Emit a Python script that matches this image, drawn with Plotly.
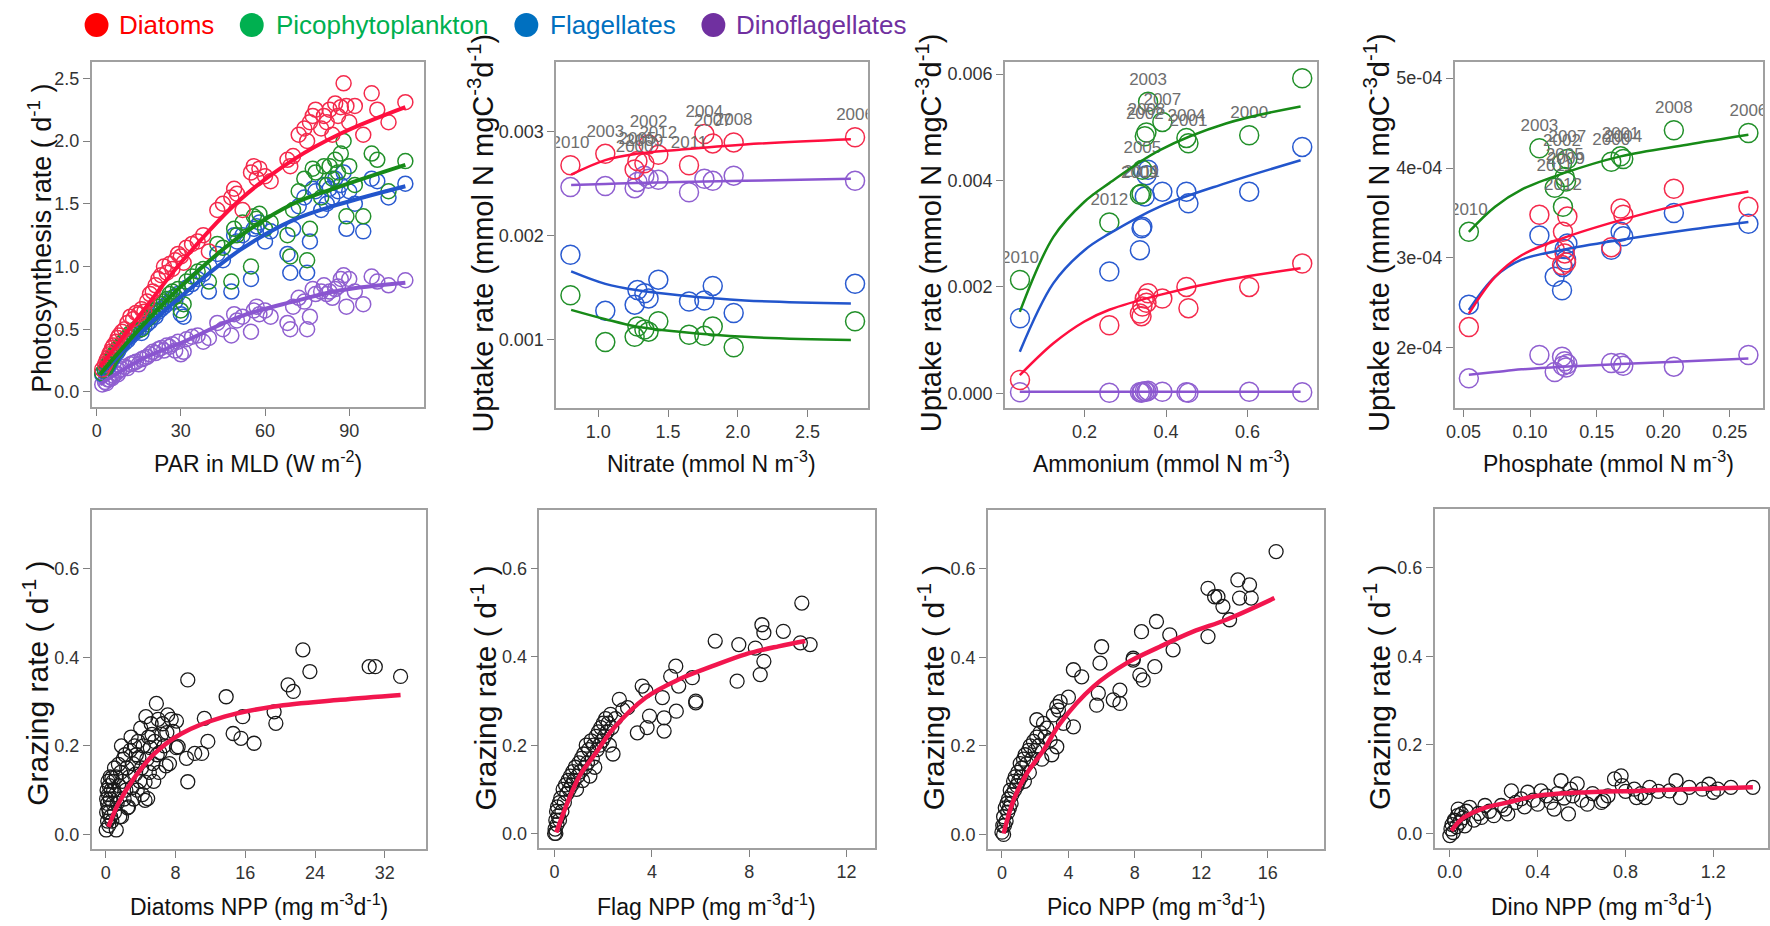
import plotly.graph_objects as go

W, H = 1770, 926
FONT = "Liberation Sans, Arial, sans-serif"

# ---------------- data ----------------
# Panel 1: photosynthesis rate vs PAR in MLD
par = [2, 3, 3.5, 4, 4.5, 5, 5.5, 6, 7, 7.5, 8, 9, 10, 11, 12, 13, 14, 15, 16, 17, 18, 19, 20, 21, 22,
       23, 24, 25, 26, 27, 28, 29, 30, 31, 32, 34, 36, 38, 40, 43, 45, 48, 49, 50, 52, 55, 56, 57, 58,
       60, 62, 68, 69, 70, 72, 74, 75, 76, 77, 78, 80, 81, 82, 83, 84, 85, 86, 87, 88, 89, 90, 92, 95,
       98, 100, 104, 110]
ps_diatoms = [0.18, 0.22, 0.25, 0.27, 0.3, 0.32, 0.35, 0.37, 0.4, 0.43, 0.45, 0.48, 0.5, 0.55, 0.6, 0.58,
              0.63, 0.62, 0.66, 0.64, 0.72, 0.78, 0.8, 0.85, 0.9, 0.93, 1.0, 0.95, 1.02, 0.98, 1.05, 1.1,
              1.08, 1.03, 1.15, 1.18, 1.2, 1.25, 1.12, 1.45, 1.5, 1.55, 1.62, 1.58, 1.45, 1.75, 1.8, 1.7,
              1.78, 1.72, 1.68, 1.85, 1.8, 1.88, 2.05, 2.1, 2.0, 2.15, 2.2, 2.25, 2.1, 2.2, 2.15, 2.25,
              2.05, 2.3, 2.2, 2.27, 2.46, 2.28, 2.15, 2.28, 2.05, 2.38, 2.25, 2.15, 2.31]
ps_pico = [0.15, 0.17, 0.2, 0.22, 0.24, 0.26, 0.28, 0.3, 0.33, 0.35, 0.36, 0.39, 0.42, 0.44, 0.47, 0.49,
           0.5, 0.52, 0.5, 0.56, 0.58, 0.6, 0.63, 0.65, 0.68, 0.7, 0.72, 0.74, 0.78, 0.8, 0.76, 0.82,
           0.65, 0.7, 0.88, 0.92, 0.96, 0.98, 0.88, 1.18, 1.15, 0.88, 1.3, 1.25, 1.35, 1.0, 1.4, 1.38,
           1.42, 1.3, 1.35, 1.25, 1.08, 1.45, 1.6, 1.7, 1.05, 1.3, 1.78, 1.75, 1.55, 1.8, 1.65, 1.8,
           1.7, 1.85, 1.75, 1.9, 2.0, 1.4, 1.8, 1.65, 1.4, 1.9, 1.85, 1.6, 1.84]
ps_flag = [0.14, 0.16, 0.19, 0.2, 0.22, 0.25, 0.26, 0.28, 0.31, 0.32, 0.34, 0.37, 0.39, 0.41, 0.44, 0.46,
           0.48, 0.49, 0.47, 0.52, 0.54, 0.56, 0.6, 0.6, 0.64, 0.66, 0.68, 0.7, 0.72, 0.75, 0.72, 0.78,
           0.62, 0.6, 0.83, 0.86, 0.9, 0.94, 0.8, 1.1, 1.05, 0.8, 1.25, 1.2, 1.25, 0.9, 1.3, 1.32,
           1.35, 1.2, 1.28, 1.1, 0.95, 1.3, 1.48, 1.55, 0.95, 1.2, 1.62, 1.6, 1.45, 1.65, 1.5, 1.62,
           1.55, 1.7, 1.6, 1.65, 1.75, 1.3, 1.6, 1.5, 1.28, 1.7, 1.68, 1.55, 1.66]
ps_dino = [0.06, 0.08, 0.07, 0.1, 0.1, 0.12, 0.11, 0.13, 0.15, 0.14, 0.17, 0.18, 0.2, 0.19, 0.22, 0.23,
           0.24, 0.22, 0.26, 0.27, 0.28, 0.3, 0.32, 0.31, 0.34, 0.35, 0.33, 0.37, 0.36, 0.38, 0.33, 0.4,
           0.3, 0.32, 0.42, 0.44, 0.45, 0.4, 0.43, 0.55, 0.5, 0.45, 0.62, 0.57, 0.6, 0.48, 0.65, 0.68,
           0.62, 0.65, 0.6, 0.55, 0.5, 0.68, 0.75, 0.72, 0.5, 0.6, 0.82, 0.78, 0.8, 0.85, 0.78, 0.8,
           0.75, 0.82, 0.84, 0.9, 0.93, 0.68, 0.9, 0.8, 0.7, 0.92, 0.88, 0.85, 0.89]
fit_par = [1.2, 16, 30, 51, 70, 87, 110]
fit_ps_diatoms = [0.2, 0.63, 1.03, 1.53, 1.85, 2.06, 2.27]
fit_ps_pico = [0.14, 0.52, 0.84, 1.24, 1.5, 1.64, 1.81]
fit_ps_flag = [0.13, 0.48, 0.76, 1.13, 1.37, 1.5, 1.64]
fit_ps_dino = [0.06, 0.26, 0.39, 0.6, 0.72, 0.81, 0.87]

# Panel 2: nitrate uptake
no3_years = ["2010", "2003", "2000", "2005", "2009", "2002", "2012", "2011", "2004", "2007", "2008", "2006"]
no3 = [0.80, 1.05, 1.26, 1.28, 1.33, 1.36, 1.43, 1.65, 1.76, 1.82, 1.97, 2.84]
no3_diatoms = [0.00268, 0.00279, 0.00264, 0.00272, 0.0027, 0.00288, 0.00278, 0.00268, 0.00298, 0.00289, 0.0029, 0.00295]
no3_dino = [0.00247, 0.00248, 0.00246, 0.00252, 0.00258, 0.00255, 0.00254, 0.00242, 0.00255, 0.00253, 0.00258, 0.00253]
no3_flag = [0.00182, 0.00128, 0.00134, 0.00148, 0.00145, 0.0014, 0.00158, 0.00137, 0.00138, 0.00152, 0.00126, 0.00154]
no3_pico = [0.00143, 0.00098, 0.00103, 0.00113, 0.0011, 0.00108, 0.00118, 0.00105, 0.00104, 0.00113, 0.00093, 0.00118]
fit_no3 = [0.805, 1.05, 1.27, 1.58, 2.05, 2.81]
fit_no3_diatoms = [0.00259, 0.00273, 0.00279, 0.00283, 0.00288, 0.00293]
fit_no3_dino = [0.00249, 0.0025, 0.00251, 0.00252, 0.00253, 0.00255]
fit_no3_flag = [0.00166, 0.00154, 0.00148, 0.00143, 0.00138, 0.00135]
fit_no3_pico = [0.00129, 0.0012, 0.00113, 0.00108, 0.00103, 0.001]

# Panel 3: ammonium uptake
nh4_years = ["2010", "2012", "2009", "2011", "2005", "2002", "2003", "2008", "2007", "2004", "2001", "2000", "2006"]
nh4 = [0.042, 0.261, 0.336, 0.34, 0.342, 0.348, 0.356, 0.352, 0.391, 0.45, 0.455, 0.604, 0.734]
nh4_diatoms = [0.00025, 0.00128, 0.0015, 0.00145, 0.00163, 0.00178, 0.00188, 0.0017, 0.00178, 0.002, 0.0016, 0.002, 0.00244]
nh4_pico = [0.00213, 0.00321, 0.00373, 0.00375, 0.0042, 0.00483, 0.00548, 0.0049, 0.0051, 0.0048, 0.0047, 0.00485, 0.00592]
nh4_flag = [0.00141, 0.00229, 0.00269, 0.0031, 0.00313, 0.0037, 0.0042, 0.0041, 0.00379, 0.00379, 0.00357, 0.00379, 0.00463]
nh4_dino = [0.00002, 0.00001, 0.00002, 0.00001, 0.00003, 0.00004, 0.00005, 0.00003, 0.00003, 0.00002, 0.00001, 0.00003, 0.00002]
fit_nh4 = [0.0415, 0.124, 0.2, 0.261, 0.385, 0.547, 0.73]
fit_nh4_pico = [0.00153, 0.00294, 0.0036, 0.00395, 0.00457, 0.00507, 0.00539]
fit_nh4_flag = [0.00078, 0.00207, 0.00269, 0.003, 0.00351, 0.00395, 0.00438]
fit_nh4_diatoms = [0.00034, 0.00094, 0.00135, 0.00157, 0.00185, 0.00213, 0.00235]
fit_nh4_dino = [0.00003, 0.00003, 0.00003, 0.00003, 0.00003, 0.00003, 0.00003]

# Panel 4: phosphate uptake
po4_years = ["2010", "2003", "2011", "2002", "2012", "2005", "2009", "2007", "2000", "2001", "2004", "2008", "2006"]
po4 = [0.054, 0.107, 0.1185, 0.124, 0.1247, 0.126, 0.127, 0.128, 0.161, 0.168, 0.17, 0.208, 0.264]
po4_diatoms = [2.23e-4, 3.48e-4, 3.09e-4, 2.92e-4, 3.29e-4, 3.05e-4, 2.95e-4, 3.46e-4, 3.12e-4, 3.55e-4, 3.48e-4, 3.77e-4, 3.57e-4]
po4_pico = [3.29e-4, 4.22e-4, 3.78e-4, 4.05e-4, 3.57e-4, 3.9e-4, 3.85e-4, 4.1e-4, 4.07e-4, 4.13e-4, 4.1e-4, 4.42e-4, 4.39e-4]
po4_flag = [2.48e-4, 3.25e-4, 2.79e-4, 2.64e-4, 2.9e-4, 3.1e-4, 2.98e-4, 3.16e-4, 3.09e-4, 3.29e-4, 3.24e-4, 3.5e-4, 3.38e-4]
po4_dino = [1.66e-4, 1.92e-4, 1.73e-4, 1.9e-4, 1.8e-4, 1.85e-4, 1.78e-4, 1.82e-4, 1.83e-4, 1.83e-4, 1.8e-4, 1.79e-4, 1.92e-4]
fit_po4 = [0.054, 0.0737, 0.0936, 0.1247, 0.168, 0.218, 0.264]
fit_po4_pico = [3.29e-4, 3.57e-4, 3.76e-4, 3.94e-4, 4.13e-4, 4.26e-4, 4.37e-4]
fit_po4_diatoms = [2.38e-4, 2.79e-4, 3.03e-4, 3.22e-4, 3.42e-4, 3.61e-4, 3.74e-4]
fit_po4_flag = [2.42e-4, 2.79e-4, 2.98e-4, 3.09e-4, 3.2e-4, 3.31e-4, 3.40e-4]
fit_po4_dino = [1.7e-4, 1.73e-4, 1.76e-4, 1.79e-4, 1.82e-4, 1.85e-4, 1.88e-4]

# Panels 5-8: grazing rate vs NPP
diat_npp = [0.05, 0.1, 0.1, 0.15, 0.2, 0.2, 0.25, 0.3, 0.3, 0.35, 0.4, 0.4, 0.5, 0.5, 0.55, 0.6, 0.7, 0.7, 0.8,
            0.85, 0.9, 1.0, 1.0, 1.1, 1.2, 1.2, 1.3, 1.45, 1.5, 1.6, 1.7, 1.8, 1.8, 1.9, 2.0, 2.1, 2.2, 2.3,
            2.4, 2.5, 2.6, 2.7, 2.8, 2.9, 3.0, 3.1, 3.2, 3.3, 3.4, 3.5, 3.6, 3.7, 3.8, 3.9, 4.0, 4.1, 4.2,
            4.3, 4.5, 4.5, 4.6, 4.7, 4.8, 4.9, 5.0, 5.1, 5.2, 5.3, 5.4, 5.5, 5.6, 5.8, 5.9, 6.0, 6.1, 6.2,
            6.4, 6.5, 6.7, 6.9, 7.0, 7.1, 7.3, 7.5, 7.7, 8.1, 8.1, 8.3, 9.25, 9.4, 9.4, 10.2, 11.0, 11.3,
            11.7, 13.8, 14.6, 15.5, 15.7, 17.0, 19.3, 19.5, 20.9, 21.5, 22.6, 23.4, 30.2, 30.9, 33.8]
diat_graz = [0.01, 0.05, 0.08, 0.1, 0.03, 0.07, 0.12, 0.06, 0.09, 0.02, 0.11, 0.05, 0.08, 0.13, 0.04, 0.1,
             0.128, 0.03, 0.07, 0.12, 0.1, 0.15, 0.05, 0.09, 0.01, 0.13, 0.07, 0.158, 0.11, 0.04, 0.14, 0.2,
             0.04, 0.12, 0.17, 0.08, 0.18, 0.1, 0.15, 0.06, 0.062, 0.13, 0.19, 0.22, 0.106, 0.16, 0.08, 0.2,
             0.136, 0.18, 0.1, 0.21, 0.174, 0.12, 0.24, 0.15, 0.09, 0.2, 0.118, 0.077, 0.266, 0.17, 0.081,
             0.22, 0.14, 0.196, 0.25, 0.226, 0.16, 0.12, 0.21, 0.296, 0.18, 0.26, 0.14, 0.185, 0.226, 0.25,
             0.2, 0.155, 0.23, 0.27, 0.16, 0.26, 0.233, 0.256, 0.196, 0.198, 0.172, 0.349, 0.119, 0.183,
             0.183, 0.262, 0.21, 0.311, 0.228, 0.217, 0.266, 0.206, 0.277, 0.251, 0.338, 0.323, 0.417, 0.368,
             0.379, 0.379, 0.357]
fit_diat_npp = [0.3, 1.45, 3.35, 5.6, 8.7, 13.6, 19.3, 26.9, 33.8]
fit_diat_graz = [0.017, 0.07, 0.13, 0.183, 0.228, 0.266, 0.289, 0.304, 0.315]

flag_npp = [0.0, 0.02, 0.05, 0.05, 0.08, 0.1, 0.12, 0.15, 0.2, 0.2, 0.25, 0.3, 0.35, 0.4, 0.45, 0.5, 0.55, 0.6,
            0.65, 0.7, 0.75, 0.8, 0.85, 0.9, 0.95, 1.0, 1.05, 1.1, 1.15, 1.2, 1.25, 1.3, 1.35, 1.4, 1.45, 1.5,
            1.55, 1.6, 1.65, 1.7, 1.75, 1.8, 1.85, 1.9, 1.95, 2.0, 2.05, 2.1, 2.15, 2.2, 2.25, 2.3, 2.35, 2.4,
            2.5, 2.66, 2.8, 3.0, 3.4, 3.6, 3.75, 3.8, 3.9, 4.43, 4.5, 4.5, 4.77, 4.98, 5.0, 5.1, 5.66, 5.8,
            5.8, 6.6, 7.5, 7.57, 8.25, 8.45, 8.52, 8.6, 8.6, 9.4, 10.1, 10.16, 10.5]
flag_graz = [0.0, 0.01, 0.03, 0.0, 0.05, 0.02, 0.06, 0.04, 0.07, 0.03, 0.08, 0.05, 0.1, 0.07, 0.11, 0.09, 0.12,
             0.1, 0.13, 0.11, 0.14, 0.12, 0.15, 0.1, 0.13, 0.16, 0.14, 0.17, 0.12, 0.18, 0.15, 0.2, 0.16, 0.19,
             0.13, 0.21, 0.17, 0.2, 0.15, 0.22, 0.19, 0.23, 0.2, 0.24, 0.21, 0.25, 0.22, 0.26, 0.23, 0.25, 0.2,
             0.27, 0.24, 0.18, 0.26, 0.304, 0.28, 0.285, 0.228, 0.334, 0.323, 0.24, 0.266, 0.308, 0.262, 0.232,
             0.356, 0.379, 0.277, 0.334, 0.353, 0.3, 0.296, 0.436, 0.345, 0.428, 0.42, 0.36, 0.473, 0.455, 0.39,
             0.458, 0.432, 0.522, 0.428]
fit_flag_npp = [0.07, 0.48, 1.02, 1.7, 2.39, 3.75, 5.1, 6.48, 7.84, 9.2, 10.3]
fit_flag_graz = [0.002, 0.063, 0.13, 0.183, 0.236, 0.308, 0.349, 0.379, 0.406, 0.424, 0.436]

pico_npp = [0.0, 0.05, 0.1, 0.1, 0.15, 0.2, 0.25, 0.3, 0.35, 0.4, 0.45, 0.5, 0.55, 0.6, 0.7, 0.75, 0.8, 0.9,
            0.95, 1.0, 1.1, 1.15, 1.2, 1.3, 1.35, 1.4, 1.5, 1.6, 1.65, 1.7, 1.8, 1.9, 2.0, 2.1, 2.1, 2.2, 2.3,
            2.4, 2.5, 2.6, 2.7, 2.9, 3.0, 3.1, 3.3, 3.3, 3.4, 3.5, 3.7, 4.0, 4.3, 4.3, 4.8, 5.7, 5.8, 5.9,
            6.0, 6.7, 7.1, 7.1, 7.9, 7.9, 8.3, 8.4, 8.5, 9.2, 9.3, 10.1, 10.3, 12.4, 12.4, 12.8, 13.0, 13.3,
            13.7, 14.2, 14.3, 14.9, 15.0, 16.5]
pico_graz = [0.005, 0.02, 0.0, 0.04, 0.02, 0.06, 0.03, 0.07, 0.05, 0.08, 0.06, 0.1, 0.07, 0.09, 0.12, 0.1, 0.13,
             0.11, 0.14, 0.12, 0.16, 0.13, 0.15, 0.17, 0.12, 0.18, 0.16, 0.19, 0.14, 0.2, 0.17, 0.21, 0.19, 0.22,
             0.259, 0.2, 0.23, 0.17, 0.251, 0.22, 0.24, 0.213, 0.18, 0.27, 0.289, 0.198, 0.281, 0.3, 0.251, 0.31,
             0.372, 0.243, 0.356, 0.292, 0.319, 0.387, 0.424, 0.304, 0.326, 0.296, 0.398, 0.394, 0.36, 0.458,
             0.349, 0.379, 0.481, 0.451, 0.417, 0.556, 0.447, 0.537, 0.537, 0.515, 0.485, 0.575, 0.534, 0.564,
             0.534, 0.639]
fit_pico_npp = [0.1, 0.7, 1.5, 2.5, 3.5, 5.5, 7.5, 9.5, 11.5, 13.5, 16.4]
fit_pico_graz = [0.002, 0.078, 0.138, 0.19, 0.251, 0.334, 0.387, 0.424, 0.458, 0.485, 0.534]

dino_npp = [0.0, 0.005, 0.01, 0.015, 0.02, 0.023, 0.03, 0.035, 0.038, 0.045, 0.053, 0.06, 0.068, 0.075, 0.09,
            0.11, 0.13, 0.143, 0.16, 0.18, 0.2, 0.234, 0.25, 0.264, 0.28, 0.3, 0.325, 0.34, 0.355, 0.38, 0.4,
            0.415, 0.44, 0.46, 0.475, 0.49, 0.506, 0.52, 0.54, 0.55, 0.56, 0.58, 0.6, 0.626, 0.65, 0.69, 0.7,
            0.72, 0.75, 0.78, 0.785, 0.8, 0.84, 0.85, 0.87, 0.89, 0.91, 0.95, 1.0, 1.03, 1.05, 1.09, 1.15,
            1.18, 1.2, 1.22, 1.28, 1.38]
dino_graz = [-0.005, 0.01, 0.02, 0.002, 0.03, 0.029, 0.015, 0.04, 0.055, 0.025, 0.044, 0.035, 0.017, 0.05,
             0.059, 0.03, 0.045, 0.036, 0.063, 0.05, 0.04, 0.063, 0.055, 0.044, 0.096, 0.07, 0.078, 0.06, 0.093,
             0.075, 0.066, 0.096, 0.085, 0.07, 0.055, 0.09, 0.119, 0.08, 0.044, 0.1, 0.085, 0.112, 0.075, 0.066,
             0.09, 0.07, 0.074, 0.085, 0.123, 0.13, 0.108, 0.095, 0.1, 0.081, 0.09, 0.081, 0.104, 0.095, 0.096,
             0.119, 0.081, 0.104, 0.1, 0.111, 0.093, 0.1, 0.104, 0.104]
fit_dino_npp = [0.0075, 0.053, 0.143, 0.264, 0.4, 0.626, 0.853, 1.08, 1.38]
fit_dino_graz = [0.006, 0.032, 0.055, 0.07, 0.085, 0.093, 0.096, 0.1, 0.104]

legend_names = ["Diatoms", "Picophytoplankton", "Flagellates", "Dinoflagellates"]
legend_colors = ["#FF0000", "#00B050", "#0070C0", "#7030A0"]

# ---------------- styles ----------------
C_RED, C_GREEN, C_BLUE, C_PURPLE = "#F42A4C", "#22902A", "#2A5BD0", "#9060D0"
L_RED, L_GREEN, L_BLUE, L_PURPLE = "#FF0F3F", "#178A17", "#2255CC", "#8A55D0"
GRAZ_LINE = "#F2164E"
LABEL_GRAY = "#6E6E6E"

# panel boxes in pixels: left, right, top, bottom
boxes = [
    (83, 417, 62, 407), (550, 863, 62, 408), (1001, 1315, 62, 408), (1453, 1763, 62, 408),
    (83, 419, 510, 849), (533, 870, 510, 848), (984, 1322, 510, 849), (1433, 1768, 509, 848),
]
xranges = [[-1.8, 116.6], [0.698, 2.93], [0.005, 0.771], [0.0433, 0.275],
           [-1.63, 36.7], [-0.63, 13.15], [-0.84, 19.4], [-0.069, 1.449]]
yranges = [[-0.12, 2.63], [0.000346, 0.003673], [-0.000276, 0.006226], [1.33e-4, 5.18e-4],
           [-0.033, 0.733], [-0.033, 0.733], [-0.033, 0.733], [-0.033, 0.733]]
xticks = [([0, 30, 60, 90], ["0", "30", "60", "90"]),
          ([1.0, 1.5, 2.0, 2.5], ["1.0", "1.5", "2.0", "2.5"]),
          ([0.2, 0.4, 0.6], ["0.2", "0.4", "0.6"]),
          ([0.05, 0.10, 0.15, 0.20, 0.25], ["0.05", "0.10", "0.15", "0.20", "0.25"]),
          ([0, 8, 16, 24, 32], ["0", "8", "16", "24", "32"]),
          ([0, 4, 8, 12], ["0", "4", "8", "12"]),
          ([0, 4, 8, 12, 16], ["0", "4", "8", "12", "16"]),
          ([0.0, 0.4, 0.8, 1.2], ["0.0", "0.4", "0.8", "1.2"])]
graz_y = ([0.0, 0.2, 0.4, 0.6], ["0.0", "0.2", "0.4", "0.6"])
yticks = [([0, 0.5, 1.0, 1.5, 2.0, 2.5], ["0.0", "0.5", "1.0", "1.5", "2.0", "2.5"]),
          ([0.001, 0.002, 0.003], ["0.001", "0.002", "0.003"]),
          ([0.0, 0.002, 0.004, 0.006], ["0.000", "0.002", "0.004", "0.006"]),
          ([2e-4, 3e-4, 4e-4, 5e-4], ["2e-04", "3e-04", "4e-04", "5e-04"]),
          graz_y, graz_y, graz_y, graz_y]

xtitles = ["PAR in MLD (W m<sup>-2</sup>)", "Nitrate (mmol N m<sup>-3</sup>)",
           "Ammonium (mmol N m<sup>-3</sup>)", "Phosphate (mmol N m<sup>-3</sup>)",
           "Diatoms NPP (mg m<sup>-3</sup>d<sup>-1</sup>)", "Flag NPP (mg m<sup>-3</sup>d<sup>-1</sup>)",
           "Pico NPP (mg m<sup>-3</sup>d<sup>-1</sup>)", "Dino NPP (mg m<sup>-3</sup>d<sup>-1</sup>)"]
uptake_title = "Uptake rate (mmol N mgC<sup>-3</sup>d<sup>-1</sup>)"
graz_title = "Grazing rate ( d<sup>-1</sup> )"
ytitles = ["Photosynthesis rate ( d<sup>-1</sup> )", uptake_title, uptake_title, uptake_title,
           graz_title, graz_title, graz_title, graz_title]
ytitle_size = [27, 29, 29, 29, 30, 30, 30, 30]
ytitle_pos = [(31, 238), (474, 233), (925, 233), (1375, 233),
              (27, 683), (477, 688), (927, 688), (1375, 688)]
xtitle_y = [462, 462, 462, 462, 905, 905, 905, 905]

fig = go.Figure()
layout = dict(width=W, height=H, margin=dict(l=0, r=0, t=0, b=0), paper_bgcolor="white",
              plot_bgcolor="white", showlegend=False, font=dict(family=FONT, color="#222"))
annotations = []
shapes = []

for i, (l, r, t, b) in enumerate(boxes):
    n = "" if i == 0 else str(i + 1)
    common = dict(showgrid=False, zeroline=False, showline=True, mirror=True, linecolor="#A0A0A0",
                  linewidth=1.5, ticks="outside", ticklen=7, tickwidth=1.3, tickcolor="#808080",
                  tickfont=dict(family=FONT, size=18, color="#333333"), tickmode="array", fixedrange=True)
    layout["xaxis" + n] = dict(common, domain=[l / W, r / W], range=xranges[i], anchor="y" + n,
                               tickvals=xticks[i][0], ticktext=xticks[i][1])
    layout["yaxis" + n] = dict(common, domain=[1 - b / H, 1 - t / H], range=yranges[i], anchor="x" + n,
                               tickvals=yticks[i][0], ticktext=yticks[i][1])
    annotations.append(dict(text=xtitles[i], xref="paper", yref="paper", x=(l + r) / 2 / W,
                            y=1 - xtitle_y[i] / H, xanchor="center", yanchor="middle", showarrow=False,
                            font=dict(family=FONT, size=23, color="#111")))
    tx, ty = ytitle_pos[i]
    annotations.append(dict(text=ytitles[i], xref="paper", yref="paper", x=tx / W, y=1 - ty / H,
                            xanchor="center", yanchor="middle", textangle=-90, showarrow=False,
                            font=dict(family=FONT, size=ytitle_size[i], color="#111")))


def pts(ax, x, y, color, size, lw=1.5, text=None):
    kw = dict(x=x, y=y, xaxis="x" + ax, yaxis="y" + ax,
              marker=dict(symbol="circle-open", size=size, color=color, line=dict(width=lw, color=color)))
    if text is None:
        fig.add_trace(go.Scatter(mode="markers", **kw))
    else:
        fig.add_trace(go.Scatter(mode="markers+text", text=text, textposition="top center",
                                 textfont=dict(family=FONT, size=17, color=LABEL_GRAY), **kw))


def curve(ax, x, y, color, width):
    fig.add_trace(go.Scatter(x=x, y=y, xaxis="x" + ax, yaxis="y" + ax, mode="lines",
                             line=dict(color=color, width=width, shape="spline", smoothing=1.0)))


# Panel 1
for ys, c in [(ps_dino, C_PURPLE), (ps_flag, C_BLUE), (ps_pico, C_GREEN), (ps_diatoms, C_RED)]:
    pts("", par, ys, c, 15)
for ys, c in [(fit_ps_dino, L_PURPLE), (fit_ps_flag, L_BLUE), (fit_ps_pico, L_GREEN), (fit_ps_diatoms, L_RED)]:
    curve("", fit_par, ys, c, 4)

# Panel 2
pts("2", no3, no3_pico, C_GREEN, 19)
pts("2", no3, no3_flag, C_BLUE, 19)
pts("2", no3, no3_dino, C_PURPLE, 19)
pts("2", no3, no3_diatoms, C_RED, 19, text=no3_years)
for ys, c in [(fit_no3_pico, L_GREEN), (fit_no3_flag, L_BLUE), (fit_no3_dino, L_PURPLE), (fit_no3_diatoms, L_RED)]:
    curve("2", fit_no3, ys, c, 2.5)

# Panel 3
pts("3", nh4, nh4_dino, C_PURPLE, 19)
pts("3", nh4, nh4_diatoms, C_RED, 19)
pts("3", nh4, nh4_flag, C_BLUE, 19)
pts("3", nh4, nh4_pico, C_GREEN, 19, text=nh4_years)
for ys, c in [(fit_nh4_dino, L_PURPLE), (fit_nh4_diatoms, L_RED), (fit_nh4_flag, L_BLUE), (fit_nh4_pico, L_GREEN)]:
    curve("3", fit_nh4, ys, c, 2.5)

# Panel 4
pts("4", po4, po4_dino, C_PURPLE, 19)
pts("4", po4, po4_flag, C_BLUE, 19)
pts("4", po4, po4_diatoms, C_RED, 19)
pts("4", po4, po4_pico, C_GREEN, 19, text=po4_years)
for ys, c in [(fit_po4_dino, L_PURPLE), (fit_po4_flag, L_BLUE), (fit_po4_diatoms, L_RED), (fit_po4_pico, L_GREEN)]:
    curve("4", fit_po4, ys, c, 2.5)

# Panels 5-8
for ax, xs, ys, fx, fy in [("5", diat_npp, diat_graz, fit_diat_npp, fit_diat_graz),
                           ("6", flag_npp, flag_graz, fit_flag_npp, fit_flag_graz),
                           ("7", pico_npp, pico_graz, fit_pico_npp, fit_pico_graz),
                           ("8", dino_npp, dino_graz, fit_dino_npp, fit_dino_graz)]:
    pts(ax, xs, ys, "#1A1A1A", 14, lw=1.3)
    curve(ax, fx, fy, GRAZ_LINE, 4.5)

# Legend (top)
leg_dot_x = [88, 244, 520, 708]
leg_txt_x = [109, 266, 542, 729]
for name, col, dx, tx in zip(legend_names, legend_colors, leg_dot_x, leg_txt_x):
    rdot = 12
    shapes.append(dict(type="circle", xref="paper", yref="paper", x0=(dx - rdot) / W, x1=(dx + rdot) / W,
                       y0=1 - (25 + rdot) / H, y1=1 - (25 - rdot) / H, fillcolor=col, line=dict(width=0)))
    annotations.append(dict(text=name, xref="paper", yref="paper", x=tx / W, y=1 - 25 / H, xanchor="left",
                            yanchor="middle", showarrow=False, font=dict(family=FONT, size=26, color=col)))

layout["annotations"] = annotations
layout["shapes"] = shapes
fig.update_layout(**layout)
fig.write_html("out.html")
